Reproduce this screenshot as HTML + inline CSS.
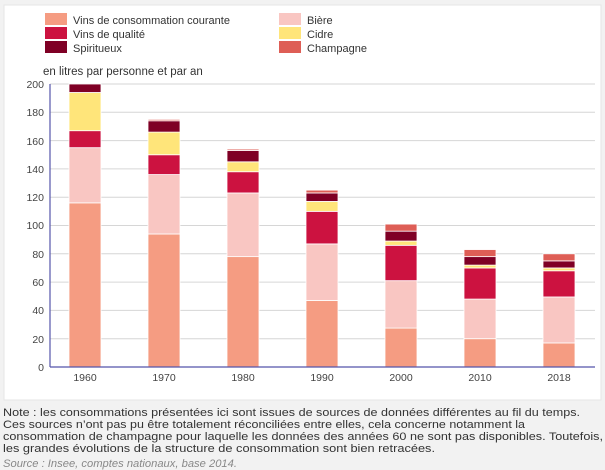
<!DOCTYPE html>
<html><head><meta charset="utf-8"><style>
html,body{margin:0;padding:0;background:#f2f2f2;}
svg{display:block;font-family:"Liberation Sans",sans-serif;}
</style></head><body>
<svg width="605" height="470" viewBox="0 0 605 470" xmlns="http://www.w3.org/2000/svg">
<rect x="0" y="0" width="605" height="470" fill="#f2f2f2"/>
<rect x="4" y="5" width="597" height="395" fill="#fff" stroke="#e6e6e6"/>
<g font-size="11" fill="#333">
<rect x="45" y="13" width="22" height="12" fill="#f59c82"/><text x="73" y="24">Vins de consommation courante</text>
<rect x="45" y="27" width="22" height="12" fill="#cc1240"/><text x="73" y="38">Vins de qualité</text>
<rect x="45" y="41" width="22" height="12" fill="#7f0025"/><text x="73" y="52">Spiritueux</text>
<rect x="279" y="13" width="22" height="12" fill="#f9c6c2"/><text x="307" y="24">Bière</text>
<rect x="279" y="27" width="22" height="12" fill="#ffe57a"/><text x="307" y="38">Cidre</text>
<rect x="279" y="41" width="22" height="12" fill="#de5e56"/><text x="307" y="52">Champagne</text>
<text x="43" y="75" font-size="11.5">en litres par personne et par an</text>
</g>
<g stroke="#d6d6d6" stroke-width="1">
<line x1="50" x2="595" y1="84" y2="84"/><line x1="50" x2="595" y1="112.3" y2="112.3"/><line x1="50" x2="595" y1="140.6" y2="140.6"/><line x1="50" x2="595" y1="168.9" y2="168.9"/><line x1="50" x2="595" y1="197.2" y2="197.2"/><line x1="50" x2="595" y1="225.5" y2="225.5"/><line x1="50" x2="595" y1="253.8" y2="253.8"/><line x1="50" x2="595" y1="282.1" y2="282.1"/><line x1="50" x2="595" y1="310.4" y2="310.4"/><line x1="50" x2="595" y1="338.7" y2="338.7"/>
</g>
<g font-size="10.5" fill="#444" text-anchor="end">
<text x="44" y="88">200</text><text x="44" y="116">180</text><text x="44" y="145">160</text><text x="44" y="173">140</text><text x="44" y="201">120</text><text x="44" y="229">100</text><text x="44" y="258">80</text><text x="44" y="286">60</text><text x="44" y="314">40</text><text x="44" y="343">20</text><text x="44" y="371">0</text>
</g>
<g stroke="#fff" stroke-width="0.8">
<!-- 1960 -->
<rect x="69" y="202.86" width="32" height="164.14" fill="#f59c82"/>
<rect x="69" y="147.67" width="32" height="55.19" fill="#f9c6c2"/>
<rect x="69" y="130.69" width="32" height="16.98" fill="#cc1240"/>
<rect x="69" y="92.49" width="32" height="38.2" fill="#ffe57a"/>
<rect x="69" y="84" width="32" height="8.49" fill="#7f0025"/>
<!-- 1970 -->
<rect x="148" y="233.99" width="32" height="133.01" fill="#f59c82"/>
<rect x="148" y="174.56" width="32" height="59.43" fill="#f9c6c2"/>
<rect x="148" y="154.75" width="32" height="19.81" fill="#cc1240"/>
<rect x="148" y="132.11" width="32" height="22.64" fill="#ffe57a"/>
<rect x="148" y="120.79" width="32" height="11.32" fill="#7f0025"/>
<rect x="148" y="119.37" width="32" height="1.42" fill="#de5e56"/>
<!-- 1980 -->
<rect x="227" y="256.63" width="32" height="110.37" fill="#f59c82"/>
<rect x="227" y="192.95" width="32" height="63.68" fill="#f9c6c2"/>
<rect x="227" y="171.73" width="32" height="21.22" fill="#cc1240"/>
<rect x="227" y="161.82" width="32" height="9.91" fill="#ffe57a"/>
<rect x="227" y="150.5" width="32" height="11.32" fill="#7f0025"/>
<rect x="227" y="149.09" width="32" height="1.41" fill="#de5e56"/>
<!-- 1990 -->
<rect x="306" y="300.5" width="32" height="66.5" fill="#f59c82"/>
<rect x="306" y="243.9" width="32" height="56.6" fill="#f9c6c2"/>
<rect x="306" y="211.35" width="32" height="32.55" fill="#cc1240"/>
<rect x="306" y="201.44" width="32" height="9.91" fill="#ffe57a"/>
<rect x="306" y="192.95" width="32" height="8.49" fill="#7f0025"/>
<rect x="306" y="190.12" width="32" height="2.83" fill="#de5e56"/>
<!-- 2000 -->
<rect x="385" y="328.09" width="32" height="38.91" fill="#f59c82"/>
<rect x="385" y="280.68" width="32" height="47.41" fill="#f9c6c2"/>
<rect x="385" y="245.31" width="32" height="35.37" fill="#cc1240"/>
<rect x="385" y="241.06" width="32" height="4.25" fill="#ffe57a"/>
<rect x="385" y="231.16" width="32" height="9.9" fill="#7f0025"/>
<rect x="385" y="224.08" width="32" height="7.08" fill="#de5e56"/>
<!-- 2010 -->
<rect x="464" y="338.7" width="32" height="28.3" fill="#f59c82"/>
<rect x="464" y="299.08" width="32" height="39.62" fill="#f9c6c2"/>
<rect x="464" y="267.95" width="32" height="31.13" fill="#cc1240"/>
<rect x="464" y="265.12" width="32" height="2.83" fill="#ffe57a"/>
<rect x="464" y="256.63" width="32" height="8.49" fill="#7f0025"/>
<rect x="464" y="249.55" width="32" height="7.08" fill="#de5e56"/>
<!-- 2018 -->
<rect x="543" y="342.94" width="32" height="24.06" fill="#f59c82"/>
<rect x="543" y="296.96" width="32" height="45.98" fill="#f9c6c2"/>
<rect x="543" y="270.78" width="32" height="26.18" fill="#cc1240"/>
<rect x="543" y="267.95" width="32" height="2.83" fill="#ffe57a"/>
<rect x="543" y="260.87" width="32" height="7.08" fill="#7f0025"/>
<rect x="543" y="253.8" width="32" height="7.07" fill="#de5e56"/>
</g>
<line x1="50" x2="50" y1="84" y2="367" stroke="#5555aa" stroke-width="1.2"/>
<line x1="50" x2="595" y1="367" y2="367" stroke="#5555aa" stroke-width="1.2"/>
<g font-size="10.5" fill="#444" text-anchor="middle">
<text x="85" y="381">1960</text><text x="164" y="381">1970</text><text x="243" y="381">1980</text><text x="322" y="381">1990</text><text x="401" y="381">2000</text><text x="480" y="381">2010</text><text x="559" y="381">2018</text>
</g>
<g font-size="11" fill="#333">
<text x="3" y="416" textLength="577" lengthAdjust="spacingAndGlyphs">Note : les consommations présentées ici sont issues de sources de données différentes au fil du temps.</text>
<text x="3" y="428" textLength="522" lengthAdjust="spacingAndGlyphs">Ces sources n’ont pas pu être totalement réconciliées entre elles, cela concerne notamment la</text>
<text x="3" y="440" textLength="600" lengthAdjust="spacingAndGlyphs">consommation de champagne pour laquelle les données des années 60 ne sont pas disponibles. Toutefois,</text>
<text x="3" y="452" textLength="432" lengthAdjust="spacingAndGlyphs">les grandes évolutions de la structure de consommation sont bien retracées.</text>
<text x="3" y="467" fill="#888" font-style="italic" textLength="234" lengthAdjust="spacingAndGlyphs">Source : Insee, comptes nationaux, base 2014.</text>
</g>
</svg>
</body></html>
